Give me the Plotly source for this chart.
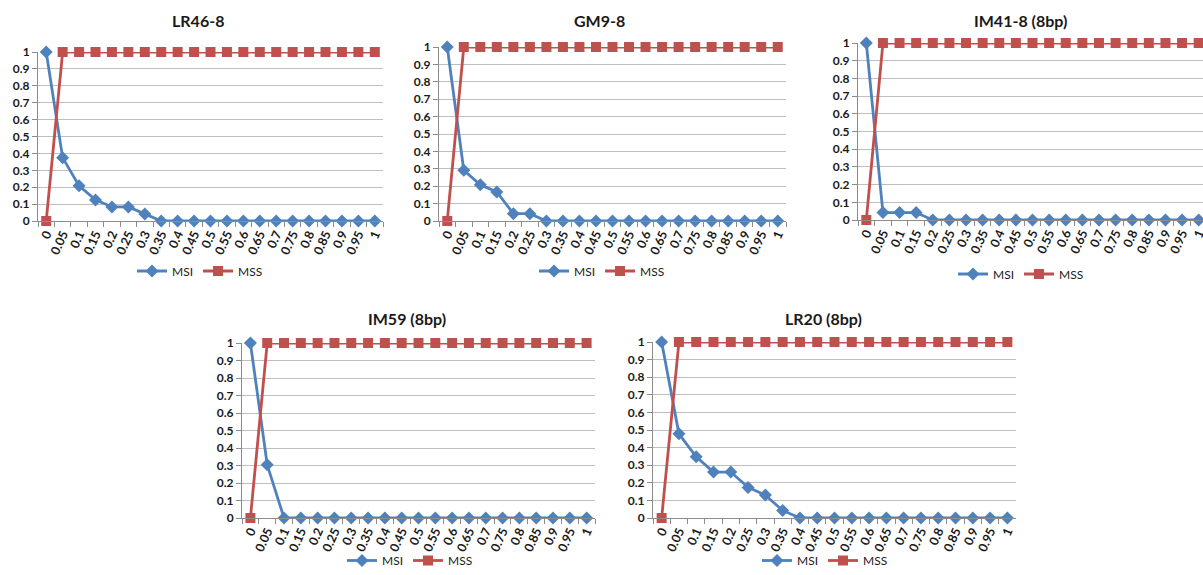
import plotly.graph_objects as go

W, H = 1203, 575

thresholds = ["0", "0.05", "0.1", "0.15", "0.2", "0.25", "0.3", "0.35", "0.4", "0.45", "0.5",
              "0.55", "0.6", "0.65", "0.7", "0.75", "0.8", "0.85", "0.9", "0.95", "1"]

marker_names = ["LR46-8", "GM9-8", "IM41-8 (8bp)", "IM59 (8bp)", "LR20 (8bp)"]

msi_lr46 = [1, 0.375, 0.208, 0.125, 0.083, 0.083, 0.042, 0, 0, 0, 0, 0, 0, 0, 0, 0, 0, 0, 0, 0, 0]
msi_gm9 = [1, 0.292, 0.208, 0.167, 0.042, 0.042, 0, 0, 0, 0, 0, 0, 0, 0, 0, 0, 0, 0, 0, 0, 0]
msi_im41 = [1, 0.042, 0.042, 0.042, 0, 0, 0, 0, 0, 0, 0, 0, 0, 0, 0, 0, 0, 0, 0, 0, 0]
msi_im59 = [1, 0.304, 0, 0, 0, 0, 0, 0, 0, 0, 0, 0, 0, 0, 0, 0, 0, 0, 0, 0, 0]
msi_lr20 = [1, 0.478, 0.348, 0.261, 0.261, 0.174, 0.13, 0.043, 0, 0, 0, 0, 0, 0, 0, 0, 0, 0, 0, 0, 0]

mss_lr46 = [0, 1, 1, 1, 1, 1, 1, 1, 1, 1, 1, 1, 1, 1, 1, 1, 1, 1, 1, 1, 1]
mss_gm9 = [0, 1, 1, 1, 1, 1, 1, 1, 1, 1, 1, 1, 1, 1, 1, 1, 1, 1, 1, 1, 1]
mss_im41 = [0, 1, 1, 1, 1, 1, 1, 1, 1, 1, 1, 1, 1, 1, 1, 1, 1, 1, 1, 1, 1]
mss_im59 = [0, 1, 1, 1, 1, 1, 1, 1, 1, 1, 1, 1, 1, 1, 1, 1, 1, 1, 1, 1, 1]
mss_lr20 = [0, 1, 1, 1, 1, 1, 1, 1, 1, 1, 1, 1, 1, 1, 1, 1, 1, 1, 1, 1, 1]

msi_series = [msi_lr46, msi_gm9, msi_im41, msi_im59, msi_lr20]
mss_series = [mss_lr46, mss_gm9, mss_im41, mss_im59, mss_lr20]

# panel plot areas in pixels: left, right, top (value 1), bottom (value 0), right end of x range;
# legend position is (x centre, y centre) or None for a legend sitting on the bottom edge
panels = [
    dict(l=38, r=383, t=52, b=221, xmax=20.5, title=(198, 21), legend=(200, 271)),
    dict(l=439, r=786, t=47, b=221, xmax=20.5, title=(599, 21), legend=(602, 271)),
    dict(l=858, r=1203, t=43, b=220, xmax=20.26, title=(1020, 21), legend=(1021, 274)),
    dict(l=242, r=595, t=343, b=518, xmax=20.5, title=(407, 318), legend=(410, None)),
    dict(l=653, r=1016, t=342, b=518, xmax=20.5, title=(823, 318), legend=(825, None)),
]

BLUE = "#4F81BD"
RED = "#C0504D"
FONT = "Lato"
GRID = "#BEBEBE"
AXIS = "#8C8C8C"

fig = go.Figure()
layout = dict(
    width=W, height=H,
    margin=dict(l=0, r=0, t=0, b=0),
    paper_bgcolor="white", plot_bgcolor="white",
    font=dict(family=FONT, color="#1a1a1a"),
    annotations=[],
)

for i, p in enumerate(panels):
    n = "" if i == 0 else str(i + 1)
    xa, ya = "x" + n, "y" + n
    lg = "legend" + n

    fig.add_trace(go.Scatter(
        x=thresholds, y=msi_series[i], name="MSI", mode="lines+markers",
        line=dict(color=BLUE, width=2.8),
        marker=dict(symbol="diamond", size=10, color=BLUE),
        xaxis=xa, yaxis=ya, legend=lg, cliponaxis=False,
    ))
    fig.add_trace(go.Scatter(
        x=thresholds, y=mss_series[i], name="MSS", mode="lines+markers",
        line=dict(color=RED, width=2.8),
        marker=dict(symbol="square", size=10, color=RED),
        xaxis=xa, yaxis=ya, legend=lg, cliponaxis=False,
    ))

    layout["xaxis" + n] = dict(
        type="category", domain=[p["l"] / W, p["r"] / W], anchor=ya,
        range=[-0.5, p["xmax"]], tickson="boundaries",
        ticks="outside", ticklen=5, tickcolor=AXIS, tickwidth=1,
        showline=True, linecolor=AXIS, linewidth=1, showgrid=False,
        tickangle=-66, automargin=False, fixedrange=True,
        tickfont=dict(family=FONT, size=12.5, weight="bold", color="#1a1a1a"),
    )
    layout["yaxis" + n] = dict(
        domain=[1 - p["b"] / H, 1 - p["t"] / H], anchor=xa,
        range=[0, 1], dtick=0.1, tick0=0,
        ticks="outside", ticklen=5, tickcolor=AXIS, tickwidth=1,
        showline=True, linecolor=AXIS, linewidth=1,
        showgrid=True, gridcolor=GRID, gridwidth=1, zeroline=False,
        automargin=False, fixedrange=True,
        tickfont=dict(family=FONT, size=12, weight="bold", color="#1a1a1a"),
    )
    lx, ly = p["legend"]
    if ly is None:
        ypos, yanc = 0, "bottom"
    else:
        ypos, yanc = 1 - ly / H, "middle"
    layout[lg] = dict(
        orientation="h", x=lx / W, y=ypos,
        xanchor="center", yanchor=yanc, bgcolor="rgba(0,0,0,0)",
        font=dict(family=FONT, size=12, color="#1a1a1a"),
        itemwidth=30, tracegroupgap=0,
    )
    layout["annotations"].append(dict(
        text="<b>%s</b>" % marker_names[i], xref="paper", yref="paper",
        x=p["title"][0] / W, y=1 - p["title"][1] / H,
        xanchor="center", yanchor="middle", showarrow=False,
        font=dict(family=FONT, size=16, color="#1a1a1a"),
    ))

fig.update_layout(**layout)
fig.write_html("out.html")
